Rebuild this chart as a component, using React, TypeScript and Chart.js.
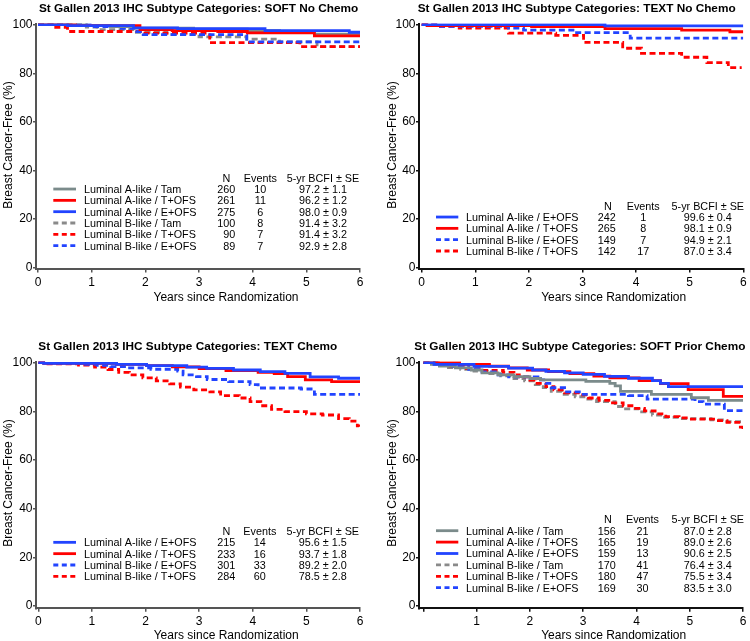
import React, { useEffect, useRef } from "react";
import { Chart, registerables } from "chart.js";
Chart.register(...registerables);

const FONT = '"Liberation Sans", Arial, Helvetica, sans-serif';
const RED = "#ff0000";
const BLUE = "#2244ff";
const GRAY = "#7b8b8b";
const GRAY_D = "#8a8a8a";

const xTicks = [0, 1, 2, 3, 4, 5, 6];
const yTicks = [0, 20, 40, 60, 80, 100];
const xAxisTitle = "Years since Randomization";
const yAxisTitle = "Breast Cancer-Free (%)";
const tableHeaders = ["N", "Events", "5-yr BCFI ± SE"];

type Pt = [number, number];

// ---------- Panel 1: SOFT No Chemo ----------
const p1Title = "St Gallen 2013 IHC Subtype Categories: SOFT No Chemo";
const p1Groups = [
  "Luminal A-like / Tam",
  "Luminal A-like / T+OFS",
  "Luminal A-like / E+OFS",
  "Luminal B-like / Tam",
  "Luminal B-like / T+OFS",
  "Luminal B-like / E+OFS",
];
const p1N = [260, 261, 275, 100, 90, 89];
const p1Events = [10, 11, 6, 8, 7, 7];
const p1Bcfi = ["97.2 ± 1.1", "96.2 ± 1.2", "98.0 ± 0.9", "91.4 ± 3.2", "91.4 ± 3.2", "92.9 ± 2.8"];
const p1LaTam: Pt[] = [[0, 100], [0.9, 99.6], [1.35, 99.2], [1.8, 98.6], [2.9, 98.2], [3.9, 97.6], [4.5, 97.2], [5.15, 96.1], [6, 96.1]];
const p1LaTofs: Pt[] = [[0, 100], [0.7, 99.6], [1.9, 98.0], [2.5, 97.6], [3.35, 97.2], [3.9, 96.6], [5.15, 95.4], [6, 95.4]];
const p1LaEofs: Pt[] = [[0, 100], [0.55, 99.6], [1.78, 98.7], [2.6, 98.4], [4.23, 97.6], [5.8, 96.9], [6, 96.9]];
const p1LbTam: Pt[] = [[0, 100], [0.9, 99.0], [1.1, 98.0], [1.8, 96.9], [2.4, 96.0], [3.0, 95.0], [3.89, 94.1], [4.5, 92.9], [5.2, 91.0], [6, 91.0]];
const p1LbTofs: Pt[] = [[0, 100], [0.3, 98.9], [0.55, 97.2], [1.95, 96.5], [3.2, 92.6], [4.88, 91.0], [6, 91.0]];
const p1LbEofs: Pt[] = [[0, 100], [1.0, 99.2], [1.5, 98.5], [1.84, 97.2], [1.96, 95.9], [3.89, 92.9], [6, 92.9]];

// ---------- Panel 2: TEXT No Chemo ----------
const p2Title = "St Gallen 2013 IHC Subtype Categories: TEXT No Chemo";
const p2Groups = [
  "Luminal A-like / E+OFS",
  "Luminal A-like / T+OFS",
  "Luminal B-like / E+OFS",
  "Luminal B-like / T+OFS",
];
const p2N = [242, 265, 149, 142];
const p2Events = [1, 8, 7, 17];
const p2Bcfi = ["99.6 ± 0.4", "98.1 ± 0.9", "94.9 ± 2.1", "87.0 ± 3.4"];
const p2LaEofs: Pt[] = [[0, 100], [3.42, 99.5], [6, 99.5]];
const p2LaTofs: Pt[] = [[0, 100], [0.1, 99.6], [2.05, 99.2], [3.42, 98.4], [4.85, 97.8], [5.75, 97.1], [6, 97.1]];
const p2LbEofs: Pt[] = [[0, 100], [0.3, 99.3], [1.62, 98.6], [1.9, 97.8], [2.86, 96.7], [3.89, 94.5], [6, 94.5]];
const p2LbTofs: Pt[] = [[0, 100], [0.3, 99.3], [0.7, 98.6], [1.62, 96.5], [2.5, 95.6], [3.02, 92.7], [3.75, 90.3], [4.1, 88.2], [4.85, 86.6], [5.32, 84.4], [5.72, 82.3], [5.97, 82.3]];

// ---------- Panel 3: TEXT Chemo ----------
const p3Title = "St Gallen 2013 IHC Subtype Categories: TEXT Chemo";
const p3Groups = [
  "Luminal A-like / E+OFS",
  "Luminal A-like / T+OFS",
  "Luminal B-like / E+OFS",
  "Luminal B-like / T+OFS",
];
const p3N = [215, 233, 301, 284];
const p3Events = [14, 16, 33, 60];
const p3Bcfi = ["95.6 ± 1.5", "93.7 ± 1.8", "89.2 ± 2.0", "78.5 ± 2.8"];
const p3LaEofs: Pt[] = [[0, 100], [0.1, 99.7], [1.46, 99.3], [2.02, 98.8], [2.77, 98.2], [3.14, 97.7], [3.64, 97.0], [4.14, 96.3], [4.6, 95.6], [5.07, 94.2], [5.6, 93.6], [6, 93.6]];
const p3LaTofs: Pt[] = [[0, 100], [0.1, 99.7], [1.46, 99.3], [2.02, 98.8], [2.5, 98.3], [3.0, 97.6], [3.5, 96.8], [4.1, 96.0], [4.4, 95.5], [4.65, 94.3], [4.98, 92.9], [5.47, 92.2], [6, 92.2]];
const p3LbEofs: Pt[] = [[0, 100], [0.1, 99.7], [0.85, 99.3], [1.1, 98.9], [1.35, 98.4], [1.65, 97.9], [2.1, 97.3], [2.6, 96.5], [2.7, 95.0], [2.95, 94.3], [3.15, 93.1], [3.55, 92.2], [3.95, 91.0], [4.1, 89.6], [4.9, 89.2], [5.15, 87.0], [6, 87.0]];
const p3LbTofs: Pt[] = [[0, 100], [0.1, 99.5], [0.75, 99.0], [1.05, 98.2], [1.3, 97.2], [1.5, 96.0], [1.7, 95.0], [1.95, 93.8], [2.2, 92.5], [2.45, 91.3], [2.65, 90.0], [2.9, 88.8], [3.2, 88.0], [3.4, 86.5], [3.75, 85.5], [3.95, 84.0], [4.15, 82.3], [4.35, 80.8], [4.6, 79.9], [5.0, 79.0], [5.3, 78.5], [5.6, 77.0], [5.8, 76.0], [5.95, 74.0], [5.98, 73.7]];

// ---------- Panel 4: SOFT Prior Chemo ----------
const p4Title = "St Gallen 2013 IHC Subtype Categories: SOFT Prior Chemo";
const p4Groups = [
  "Luminal A-like / Tam",
  "Luminal A-like / T+OFS",
  "Luminal A-like / E+OFS",
  "Luminal B-like / Tam",
  "Luminal B-like / T+OFS",
  "Luminal B-like / E+OFS",
];
const p4N = [156, 165, 159, 170, 180, 169];
const p4Events = [21, 19, 13, 41, 47, 30];
const p4Bcfi = ["87.0 ± 2.8", "89.0 ± 2.6", "90.6 ± 2.5", "76.4 ± 3.4", "75.5 ± 3.4", "83.5 ± 3.0"];
const p4LaTam: Pt[] = [[0, 100], [0.15, 99.3], [0.3, 98.6], [0.6, 97.9], [0.9, 97.0], [1.1, 95.8], [1.4, 95.0], [1.7, 94.3], [2.0, 93.5], [2.2, 92.9], [3.05, 92.3], [3.5, 91.5], [3.6, 90.5], [3.7, 88.2], [4.28, 87.0], [5.03, 85.6], [5.35, 84.5], [6, 84.5]];
const p4LaTofs: Pt[] = [[0, 100], [0.68, 99.3], [1.24, 98.6], [1.6, 97.9], [1.95, 97.0], [2.35, 96.3], [2.75, 95.5], [3.2, 94.5], [3.5, 93.8], [4.05, 92.6], [4.45, 91.4], [4.97, 88.9], [5.63, 86.2], [6, 86.2]];
const p4LaEofs: Pt[] = [[0, 100], [0.2, 99.3], [0.95, 98.5], [1.6, 97.8], [2.05, 97.0], [2.3, 96.4], [2.65, 95.8], [3.0, 95.2], [3.4, 94.4], [3.85, 93.6], [4.3, 92.6], [4.45, 91.5], [4.6, 90.2], [6, 90.2]];
const p4LbTam: Pt[] = [[0, 100], [0.2, 99.3], [0.4, 98.0], [0.7, 97.3], [0.95, 96.5], [1.2, 95.5], [1.45, 94.6], [1.7, 93.5], [1.9, 92.5], [2.1, 91.0], [2.25, 89.8], [2.4, 88.2], [2.6, 87.0], [2.85, 86.0], [3.05, 85.0], [3.25, 84.0], [3.6, 82.0], [3.75, 81.0], [4.05, 79.8], [4.3, 78.5], [4.5, 77.5], [4.8, 77.0], [5.4, 76.5], [5.7, 75.8], [6, 75.8]];
const p4LbTofs: Pt[] = [[0, 100], [0.28, 99.3], [0.5, 98.6], [0.75, 97.6], [1.1, 96.8], [1.5, 96.0], [1.7, 95.0], [1.8, 94.2], [2.0, 92.8], [2.1, 91.5], [2.3, 90.2], [2.45, 88.8], [2.65, 87.6], [2.95, 86.8], [3.1, 85.5], [3.3, 84.5], [3.55, 83.5], [3.75, 82.3], [3.95, 81.2], [4.15, 80.2], [4.35, 79.0], [4.55, 77.8], [4.8, 77.3], [5.0, 76.8], [5.5, 76.2], [5.7, 75.5], [5.95, 73.5], [6, 72.0]];
const p4LbEofs: Pt[] = [[0, 100], [0.25, 99.3], [0.55, 98.5], [0.85, 97.3], [1.1, 96.2], [1.35, 95.0], [1.6, 94.2], [2.15, 92.9], [2.3, 91.5], [2.4, 89.7], [2.65, 88.0], [3.0, 87.0], [3.85, 86.5], [4.2, 85.0], [5.1, 84.0], [5.25, 83.0], [5.65, 80.3], [6, 80.3]];

// ---------- styles ----------
function styleFor(group: string) {
  const dashed = group.indexOf("Luminal B") === 0;
  let color = GRAY;
  if (group.indexOf("T+OFS") >= 0) color = RED;
  else if (group.indexOf("E+OFS") >= 0) color = BLUE;
  else color = dashed ? GRAY_D : GRAY;
  let order = 0;
  if (group.indexOf("E+OFS") >= 0) order = 0;
  else if (group.indexOf("T+OFS") >= 0) order = 1;
  else order = 2;
  if (dashed) order += 3;
  return { color, dash: dashed ? [6, 3.5] : [], order };
}

type Layout = {
  x: number; y: number; w: number; h: number;
  left: number; top: number; right: number; bottom: number;
  x0: number; y100: number; y0: number;
  titleX: number; titleY: number;
  xTitleX: number; xTitleY: number;
  yTitleX: number; yTitleY: number;
  sampleX: number; sampleW: number; labelX: number;
  nRight: number; nHeader: number; eventsX: number; bcfiX: number;
  headerY: number; rowH: number;
  axisColor: string; showZero: boolean;
};

type PanelCfg = {
  title: string; groups: string[]; n: number[]; events: number[]; bcfi: string[];
  series: Pt[][]; layout: Layout;
};

const panels: PanelCfg[] = [
  {
    title: p1Title, groups: p1Groups, n: p1N, events: p1Events, bcfi: p1Bcfi,
    series: [p1LaTam, p1LaTofs, p1LaEofs, p1LbTam, p1LbTofs, p1LbEofs],
    layout: {
      x: 0, y: 0, w: 375, h: 320, left: 36, top: 23.5, right: 360, bottom: 269,
      x0: 38, y100: 24.7, y0: 267.7, titleX: 39, titleY: 12.3,
      xTitleX: 226, xTitleY: 300.5, yTitleX: 12.3, yTitleY: 145,
      sampleX: 53.3, sampleW: 22.7, labelX: 84, nRight: 235.3, nHeader: 226.3,
      eventsX: 260.3, bcfiX: 323, headerY: 177.7, rowH: 11.33, axisColor: "#555555", showZero: true,
    },
  },
  {
    title: p2Title, groups: p2Groups, n: p2N, events: p2Events, bcfi: p2Bcfi,
    series: [p2LaEofs, p2LaTofs, p2LbEofs, p2LbTofs],
    layout: {
      x: 375, y: 0, w: 375, h: 320, left: 44, top: 23.5, right: 368.3, bottom: 269,
      x0: 46.7, y100: 24.7, y0: 267.7, titleX: 42.7, titleY: 12.3,
      xTitleX: 238.7, xTitleY: 300.5, yTitleX: 21.3, yTitleY: 145,
      sampleX: 61, sampleW: 22.3, labelX: 91, nRight: 240.7, nHeader: 233,
      eventsX: 268.2, bcfiX: 332.8, headerY: 205.7, rowH: 11.33, axisColor: "#111111", showZero: true,
    },
  },
  {
    title: p3Title, groups: p3Groups, n: p3N, events: p3Events, bcfi: p3Bcfi,
    series: [p3LaEofs, p3LaTofs, p3LbEofs, p3LbTofs],
    layout: {
      x: 0, y: 320, w: 375, h: 321, left: 36, top: 41.5, right: 360, bottom: 288.3,
      x0: 38.3, y100: 42.7, y0: 286, titleX: 38.3, titleY: 29.8,
      xTitleX: 226.2, xTitleY: 319.3, yTitleX: 12.3, yTitleY: 163,
      sampleX: 53.3, sampleW: 22.7, labelX: 84, nRight: 235.3, nHeader: 226.3,
      eventsX: 259.8, bcfiX: 322.8, headerY: 211, rowH: 11.33, axisColor: "#555555", showZero: true,
    },
  },
  {
    title: p4Title, groups: p4Groups, n: p4N, events: p4Events, bcfi: p4Bcfi,
    series: [p4LaTam, p4LaTofs, p4LaEofs, p4LbTam, p4LbTofs, p4LbEofs],
    layout: {
      x: 375, y: 320, w: 375, h: 321, left: 44, top: 41.5, right: 368, bottom: 288.3,
      x0: 48.4, y100: 42.7, y0: 286, titleX: 39.3, titleY: 29.8,
      xTitleX: 238.7, xTitleY: 319.3, yTitleX: 21.3, yTitleY: 163,
      sampleX: 61, sampleW: 22.3, labelX: 91, nRight: 240.7, nHeader: 233,
      eventsX: 267.5, bcfiX: 332.8, headerY: 199.3, rowH: 11.4, axisColor: "#111111", showZero: false,
    },
  },
];

function makeOverlay(cfg: PanelCfg) {
  return {
    id: "kmOverlay",
    afterDraw(chart: any) {
      const ctx: CanvasRenderingContext2D = chart.ctx;
      const L = cfg.layout;
      ctx.save();
      ctx.fillStyle = "#000";
      // title
      ctx.font = `bold 11.8px ${FONT}`;
      ctx.textAlign = "left";
      ctx.textBaseline = "alphabetic";
      ctx.fillText(cfg.title, L.titleX, L.titleY);
      // x title
      ctx.font = `12px ${FONT}`;
      ctx.textAlign = "center";
      ctx.fillText(xAxisTitle, L.xTitleX, L.xTitleY);
      // y title
      ctx.save();
      ctx.translate(L.yTitleX, L.yTitleY);
      ctx.rotate(-Math.PI / 2);
      ctx.fillText(yAxisTitle, 0, 0);
      ctx.restore();
      // table
      const fs = 10.8;
      const off = fs * 0.358;
      ctx.font = `${fs}px ${FONT}`;
      ctx.textAlign = "center";
      ctx.fillText(tableHeaders[0], L.nHeader, L.headerY + off);
      ctx.fillText(tableHeaders[1], L.eventsX, L.headerY + off);
      ctx.fillText(tableHeaders[2], L.bcfiX, L.headerY + off);
      cfg.groups.forEach((g, i) => {
        const cy = L.headerY + L.rowH * (i + 1);
        const st = styleFor(g);
        ctx.save();
        ctx.strokeStyle = st.color;
        ctx.lineWidth = 2.8;
        ctx.lineCap = "butt";
        ctx.setLineDash(st.dash.length ? [5, 3.5] : []);
        ctx.beginPath();
        ctx.moveTo(L.sampleX, cy);
        ctx.lineTo(L.sampleX + L.sampleW, cy);
        ctx.stroke();
        ctx.restore();
        ctx.textAlign = "left";
        ctx.fillText(g, L.labelX, cy + off);
        ctx.textAlign = "right";
        ctx.fillText(String(cfg.n[i]), L.nRight, cy + off);
        ctx.textAlign = "center";
        ctx.fillText(String(cfg.events[i]), L.eventsX, cy + off);
        ctx.fillText(cfg.bcfi[i], L.bcfiX, cy + off);
      });
      ctx.restore();
    },
  };
}

function Panel({ cfg }: { cfg: PanelCfg }) {
  const ref = useRef<HTMLCanvasElement>(null);
  const L = cfg.layout;
  useEffect(() => {
    const kx = (L.right - L.x0) / 6;
    const xmin = -(L.x0 - L.left) / kx;
    const ky = (L.y0 - L.y100) / 100;
    const ymin = -(L.bottom - L.y0) / ky;
    const ymax = 100 + (L.y100 - L.top) / ky;
    const datasets = cfg.groups.map((g, i) => {
      const st = styleFor(g);
      return {
        label: g,
        data: cfg.series[i].map(([x, y]) => ({ x, y })),
        borderColor: st.color,
        backgroundColor: st.color,
        borderWidth: 2.8,
        borderDash: st.dash,
        borderCapStyle: "butt" as const,
        stepped: true,
        pointRadius: 0,
        fill: false,
        order: st.order,
      };
    });
    const tickFont = { family: FONT, size: 12 };
    const chart = new Chart(ref.current as HTMLCanvasElement, {
      type: "line",
      data: { datasets } as any,
      options: {
        animation: false,
        responsive: false,
        maintainAspectRatio: false,
        events: [],
        layout: { padding: { left: 0, top: L.top, right: L.w - L.right, bottom: 0 } },
        plugins: {
          legend: { display: false },
          tooltip: { enabled: false },
          title: { display: false },
        },
        scales: {
          x: {
            type: "linear",
            min: xmin,
            max: 6,
            afterBuildTicks: (s: any) => {
              s.ticks = xTicks.map((v) => ({ value: v }));
            },
            afterFit: (s: any) => {
              s.height = L.h - L.bottom;
            },
            ticks: {
              font: tickFont,
              color: "#000",
              padding: 3,
              maxRotation: 0,
              autoSkip: false,
              callback: (v: any) => (Number(v) === 0 && !L.showZero ? "" : String(v)),
            },
            grid: { drawOnChartArea: false, drawTicks: true, tickLength: 3.5, color: L.axisColor, lineWidth: 1.5 },
            border: { display: true, color: L.axisColor, width: 2 },
          },
          y: {
            type: "linear",
            min: ymin,
            max: ymax,
            afterBuildTicks: (s: any) => {
              s.ticks = yTicks.map((v) => ({ value: v }));
            },
            afterFit: (s: any) => {
              s.width = L.left;
            },
            ticks: { font: tickFont, color: "#000", padding: 0.5, autoSkip: false },
            grid: { drawOnChartArea: false, drawTicks: true, tickLength: 3, color: L.axisColor, lineWidth: 1.5 },
            border: { display: true, color: L.axisColor, width: 2 },
          },
        },
      } as any,
      plugins: [makeOverlay(cfg)],
    });
    return () => chart.destroy();
  }, []);
  return (
    <canvas
      ref={ref}
      width={L.w}
      height={L.h}
      style={{ position: "absolute", left: L.x, top: L.y, width: L.w, height: L.h }}
    />
  );
}

export default function App() {
  return (
    <div style={{ position: "absolute", left: 0, top: 0, width: 750, height: 641, background: "#fff", overflow: "hidden" }}>
      {panels.map((p, i) => (
        <Panel key={i} cfg={p} />
      ))}
    </div>
  );
}
